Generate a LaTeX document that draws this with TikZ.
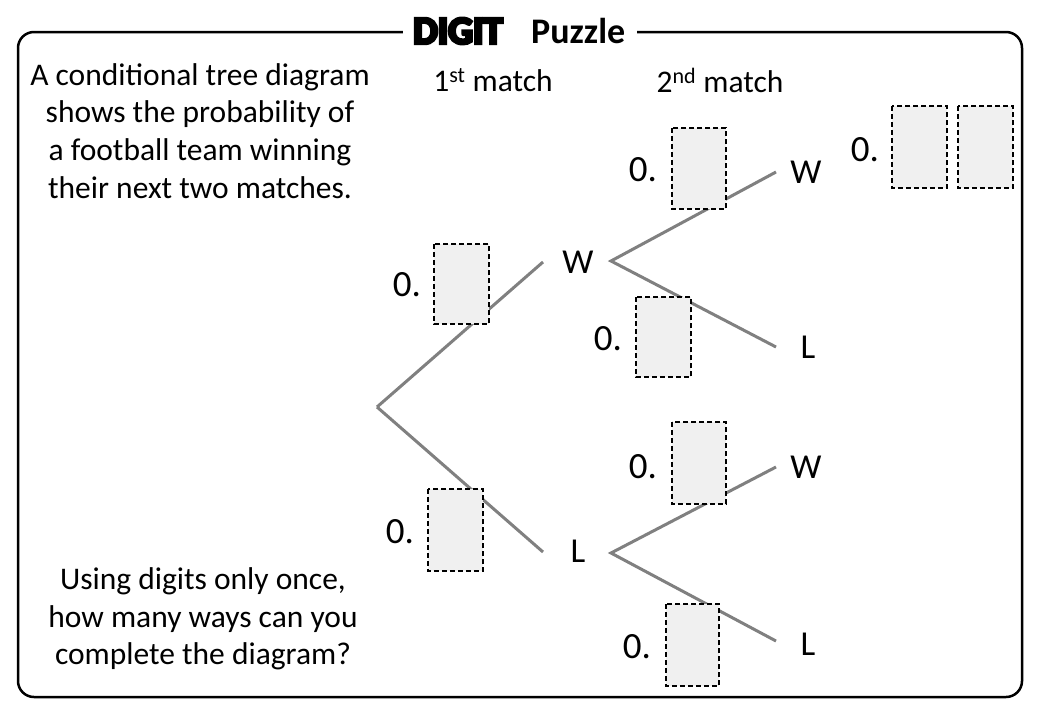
\documentclass[tikz,border=0pt]{standalone}
\usepackage{fontspec}
\setmainfont{Carlito}
\newfontfamily\digitfont[FakeBold=8]{Carlito Bold}
\begin{document}
\begin{tikzpicture}[x=1pt,y=-1pt,
  branch/.style={draw=black!50, line width=3pt},
  pbox/.style={draw=black, dashed, dash pattern=on 5pt off 3pt, line width=2pt, fill=black!6},
  lbl/.style={font=\fontsize{31.5}{38}\selectfont, inner sep=0pt},
  wl/.style={font=\fontsize{35}{40}\selectfont, inner sep=0pt},
  zer/.style={font=\fontsize{37}{44}\selectfont, inner sep=0pt},
  body/.style={font=\fontsize{31.5}{37.7}\selectfont, align=center, inner sep=0pt}]
\useasboundingbox (0,0) rectangle (1040,720);
\fill[white] (0,0) rectangle (1040,720);
% frame
\draw[line width=2.5pt, rounded corners=16pt] (18,32) rectangle (1022,697);
\fill[white] (403,18) rectangle (637,46);
\node[anchor=west, inner sep=0pt, font=\fontsize{39}{44}\selectfont\digitfont] (t1) at (413,31) {DIGIT};
\node[anchor=west, inner sep=0pt, font=\fontsize{36}{42}\selectfont\bfseries] (t2) at (531,31) {Puzzle};
% texts
\node[body] (intro) at (200,131) {A conditional tree diagram\\shows the probability of\\a football team winning\\their next two matches.};
\node[body] (q) at (203,619) {Using digits only once,\\how many ways can you\\complete the diagram?};
\node[lbl] (h1) at (493,80) {1\textsuperscript{st} match};
\node[lbl] (h2) at (720,80) {2\textsuperscript{nd} match};
% tree coordinates
\coordinate (root) at (377,407);
\coordinate (e1) at (543,262);
\coordinate (e2) at (543,552);
\coordinate (s1) at (611,261);
\coordinate (s2) at (611,553);
\coordinate (e11) at (776,172);
\coordinate (e12) at (776,347);
\coordinate (e21) at (776,467);
\coordinate (e22) at (776,641);
\node[wl] (W) at (578,262) {W};
\node[wl] (L) at (578,551) {L};
\node[wl] (WW) at (806,172) {W};
\node[wl] (WL) at (808,347) {L};
\node[wl] (LW) at (806,467) {W};
\node[wl] (LL) at (808,644) {L};
\draw[branch] (root) -- (e1);
\draw[branch] (root) -- (e2);
\draw[branch] (e11) -- (s1) -- (e12);
\draw[branch] (e21) -- (s2) -- (e22);
% boxes
\draw[pbox] (434,244) rectangle (489,324);
\node[zer] (z1) at (407,285) {0.};
\draw[pbox] (672,128) rectangle (726,209);
\node[zer] (z2) at (643,170) {0.};
\draw[pbox] (636,297) rectangle (691,377);
\node[zer] (z3) at (608,339) {0.};
\draw[pbox] (428,489) rectangle (483,571);
\node[zer] (z4) at (400,532) {0.};
\draw[pbox] (672,422) rectangle (726,504);
\node[zer] (z5) at (643,467) {0.};
\draw[pbox] (666,604) rectangle (719,686);
\node[zer] (z6) at (637,647) {0.};
\draw[pbox] (892,106) rectangle (947,188);
\draw[pbox] (958,106) rectangle (1013,188);
\node[zer] (z7) at (865,150) {0.};
\end{tikzpicture}
\end{document}
